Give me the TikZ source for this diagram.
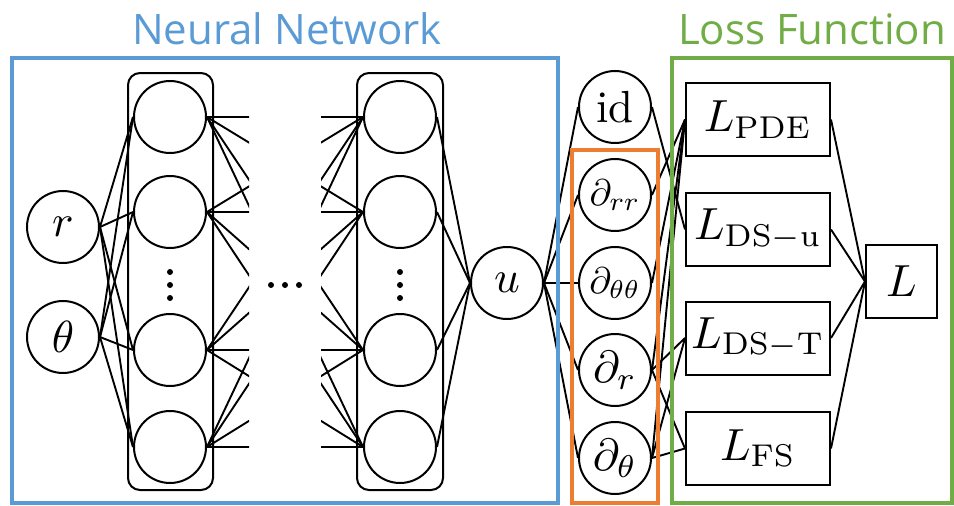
\documentclass[tikz,border=0pt]{standalone}
\usepackage{fontspec}
\setsansfont{Open Sans}
\usetikzlibrary{calc}

\definecolor{nnblue}{RGB}{91,155,213}
\definecolor{lossgreen}{RGB}{112,173,71}
\definecolor{derivorange}{RGB}{237,125,49}

% enlarged math labels
\newcommand{\biglabel}[1]{\scalebox{4.5}{#1}}
\newcommand{\midlabel}[1]{\scalebox{3.7}{#1}}

\tikzset{
  neuron/.style={circle, draw, line width=2pt, minimum size=72pt, inner sep=0pt},
  lossbox/.style={rectangle, draw, line width=2pt, minimum width=144pt,
                  minimum height=73pt, inner sep=0pt},
  conn/.style={line width=1.9pt},
  layerbox/.style={draw, line width=2pt, rounded corners=12pt},
  framebox/.style={line width=4pt},
  title/.style={font=\sffamily\fontsize{42}{46}\selectfont, anchor=base, inner sep=0pt},
  dot/.style={circle, fill, inner sep=0pt, minimum size=6pt}
}

\begin{document}
\begin{tikzpicture}[x=1pt, y=-1pt]
\useasboundingbox (0,0) rectangle (954,506);

% hidden-layer containers
\draw[layerbox] (128,73) rectangle (213,490);
\draw[layerbox] (357,73) rectangle (443,490);

% inputs
\node[neuron] (r)  at (63,227) {\biglabel{$r$}};
\node[neuron] (th) at (63,337) {\biglabel{$\theta$}};

% hidden layers
\foreach \i/\y in {1/117,2/212,3/350,4/447}{
  \node[neuron] (a\i) at (170,\y) {};
  \node[neuron] (b\i) at (400,\y) {};
}

% vertical ellipses inside the layers
\foreach \y [count=\k] in {272,285,298}{
  \node[dot] (va\k) at (170,\y) {};
  \node[dot] (vb\k) at (400,\y) {};
}
% horizontal ellipsis between the layers
\foreach \x [count=\k] in {271,285,299}{
  \node[dot] (hd\k) at (\x,285) {};
}

% output
\node[neuron] (u) at (507,283) {\biglabel{$u$}};

% operators applied to u
\node[neuron] (id)  at (615,107) {\biglabel{id}};
\node[neuron] (drr) at (615,195) {\midlabel{$\partial_{rr}$}};
\node[neuron] (dtt) at (615,283) {\midlabel{$\partial_{\theta\theta}$}};
\node[neuron] (dr)  at (615,370) {\biglabel{$\partial_r$}};
\node[neuron] (dt)  at (615,458) {\biglabel{$\partial_\theta$}};

% loss terms
\node[lossbox] (lpde) at (758,119.5) {\biglabel{$L_{\mathrm{PDE}}$}};
\node[lossbox] (ldsu) at (758,229.5) {\biglabel{$L_{\mathrm{DS}-\mathrm{u}}$}};
\node[lossbox] (ldst) at (758,338)   {\biglabel{$L_{\mathrm{DS}-\mathrm{T}}$}};
\node[lossbox] (lfs)  at (758,448.5) {\biglabel{$L_{\mathrm{FS}}$}};
\node[lossbox, minimum width=71pt] (ltot) at (901.5,281.5) {\biglabel{$L$}};

% input -> first hidden layer
\foreach \s in {r,th}
  \foreach \i in {1,...,4}
    \draw[conn] (\s.east) -- (a\i.west);

% first hidden layer -> (omitted layers) -> last hidden layer
\begin{scope}
  \clip (0,0) rectangle (249,506);
  \foreach \i in {1,...,4}
    \foreach \j in {1,...,4}
      \draw[conn] (a\i.east) -- (b\j.west);
\end{scope}
\begin{scope}
  \clip (321,0) rectangle (954,506);
  \foreach \i in {1,...,4}
    \foreach \j in {1,...,4}
      \draw[conn] (a\i.east) -- (b\j.west);
\end{scope}

% last hidden layer -> u
\foreach \i in {1,...,4}
  \draw[conn] (b\i.east) -- (u.west);

% u -> operators
\foreach \n in {id,drr,dtt,dr,dt}
  \draw[conn] (u.east) -- (\n.west);

% operators -> loss terms
\draw[conn] (id.east) -- (ldsu.west);
\foreach \n in {drr,dtt,dr,dt}
  \draw[conn] (\n.east) -- (lpde.west);
\foreach \n in {dr,dt}{
  \draw[conn] (\n.east) -- (ldst.west);
  \draw[conn] (\n.east) -- (lfs.west);
}

% loss terms -> total loss
\foreach \n in {lpde,ldsu,ldst,lfs}
  \draw[conn] (\n.east) -- (ltot.west);

% group frames
\draw[framebox, nnblue]      (12,58)  rectangle (558,503);
\draw[framebox, derivorange] (572,150) rectangle (658,503);
\draw[framebox, lossgreen]   (672,58) rectangle (952,503);

% group titles
\node[title, text=nnblue]    (nntitle)   at (287,44) {Neural Network};
\node[title, text=lossgreen] (losstitle) at (812,44) {Loss Function};
\end{tikzpicture}
\end{document}
